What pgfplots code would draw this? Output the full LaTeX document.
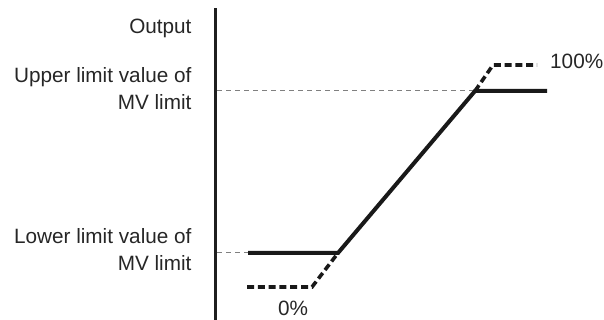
\documentclass[border=0pt]{standalone}
\usepackage{pgfplots}
\pgfplotsset{compat=1.18}
\usepackage{fontspec}
\setmainfont{Liberation Sans}
\tikzset{lbl/.style={font=\fontsize{20.8}{27}\selectfont, text=black!85}}
\begin{document}
\begin{tikzpicture}
\begin{axis}[
  scale only axis, width=604bp, height=320bp,
  xmin=0, xmax=604, ymin=0, ymax=320,
  axis lines=none, clip=false,
]
% vertical axis
\addplot[black!88, line width=3bp] coordinates {(215,0) (215,312)};
% thin grey reference lines
\addplot[gray, line width=1bp, dash pattern=on 5bp off 4bp] coordinates {(217,67) (248,67)};
\addplot[gray, line width=1bp, dash pattern=on 5bp off 4bp] coordinates {(217,229) (475,229)};
% dashed 0-100% output
\addplot[black!90, line width=3.6bp, dash pattern=on 7bp off 3.8bp] coordinates {(247,33) (312,33) (338,67)};
\addplot[black!90, line width=3.6bp, dash pattern=on 7bp off 3.8bp] coordinates {(475,229) (493,255) (537,255)};
% limited output
\addplot[black!90, line width=4bp] coordinates {(248,67) (338,67) (475,229) (547,229)};
% labels
\node[lbl, anchor=east] at (axis cs:195,292) {Output};
\node[lbl, anchor=east, align=right] at (axis cs:195,231) {Upper limit value of\\MV limit};
\node[lbl, anchor=east, align=right] at (axis cs:195,70) {Lower limit value of\\MV limit};
\node[lbl, anchor=center] at (axis cs:293,12) {0\%};
\node[lbl, anchor=west, inner sep=0pt] at (axis cs:550,259) {100\%};
\end{axis}
\pgfresetboundingbox
\path[use as bounding box] (current axis.south west) rectangle (current axis.north east);
\end{tikzpicture}
\end{document}
